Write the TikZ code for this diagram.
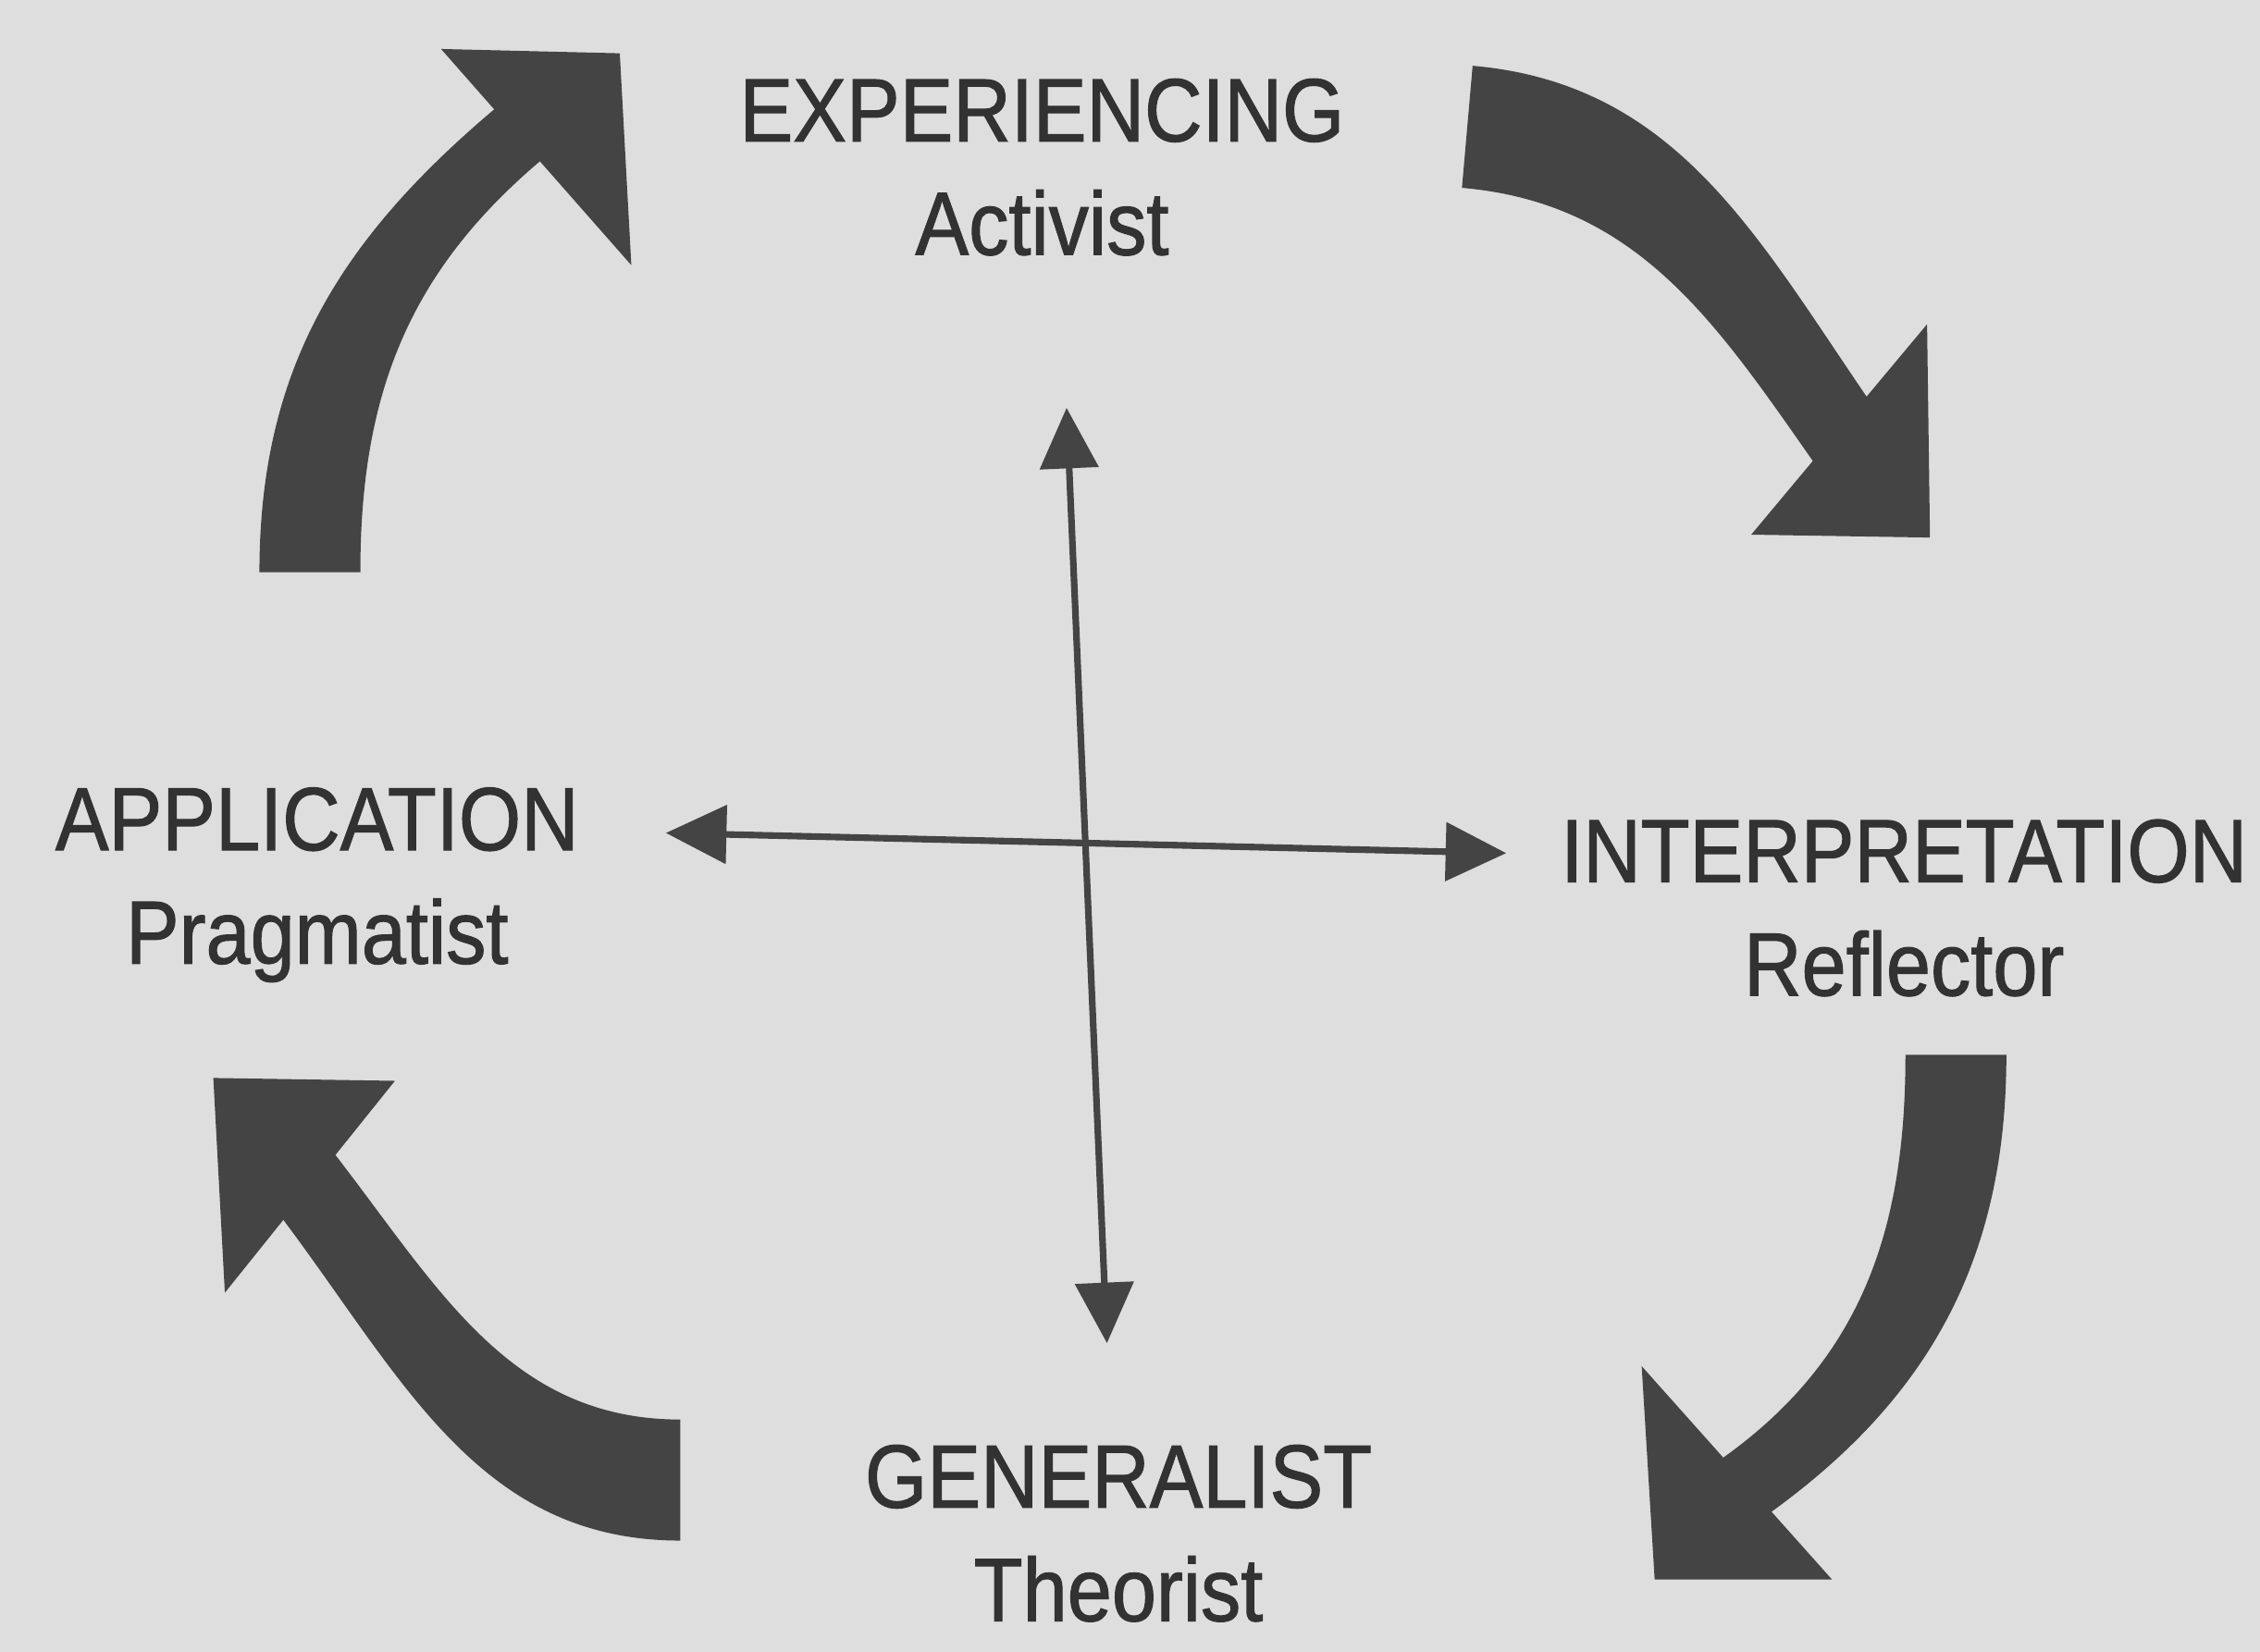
\documentclass[tikz,border=0pt]{standalone}
\usepackage{fontspec}
\setmainfont{Liberation Sans}
\newfontfamily\stagefont{Liberation Sans}[FakeBold=1.2]
\usepackage{xcolor}
\usepackage{tikz}
\usetikzlibrary{arrows.meta,calc}

\definecolor{paper}{RGB}{222,222,222}
\definecolor{ink}{RGB}{68,68,68}
\definecolor{letters}{RGB}{50,50,50}

% shaft of a cycle arrow: #1 tail, #2 end, #3 out, #4 in, #5/#6 half widths at tail/end
\newcommand\cycleshaft[6]{%
  \fill[ink] ($(#1)+(#3+90:#5)$) to[out=#3,in=#4] ($(#2)+(#4-90:#6)$)
    -- ($(#2)+(#4+90:#6)$) to[out=#4,in=#3] ($(#1)+(#3-90:#5)$) -- cycle;}
% head of a cycle arrow: corner, tip, corner
\newcommand\cyclehead[3]{\fill[ink] (#1) -- (#2) -- (#3) -- cycle;}

\begin{document}
\begin{tikzpicture}[
    stage/.style={align=center, inner sep=0pt, text=letters, yscale=1.12,
        font=\stagefont\fontsize{15.8}{20}\selectfont},
    axis/.style={draw=ink, line width=1.3pt,
        {Triangle[length=4.2mm, width=4mm]}-{Triangle[length=4.2mm, width=4mm]}}
]

% sheet
\fill[paper] (0,0) rectangle (15.68,11.46);
\useasboundingbox (0,0) rectangle (15.68,11.46);

% stages of the cycle
\node[stage] (exp) at (7.23,10.30) {EXPERIENCING\\Activist};
\node[stage] (int) at (13.21,5.16) {INTERPRETATION\\Reflector};
\node[stage] (gen) at (7.76,0.82) {GENERALIST\\Theorist};
\node[stage] (app) at (2.20,5.32) {APPLICATION\\Pragmatist};

% ends of the cycle arrows: S tail, E end of shaft, H1/H2 corners of head, T tip
\coordinate (tlS) at (2.15,7.49);   \coordinate (tlE) at (3.61,10.54);
\coordinate (tlH1) at (3.06,11.12); \coordinate (tlT) at (4.30,11.09); \coordinate (tlH2) at (4.38,9.62);
\coordinate (trS) at (10.18,10.58); \coordinate (trE) at (12.85,8.36);
\coordinate (trH1) at (13.37,9.21); \coordinate (trT) at (13.39,7.73); \coordinate (trH2) at (12.15,7.75);
\coordinate (brS) at (13.57,4.14);  \coordinate (brE) at (12.07,1.12);
\coordinate (brH1) at (11.39,1.98); \coordinate (brT) at (11.48,0.50); \coordinate (brH2) at (12.71,0.50);
\coordinate (blS) at (4.72,1.19);   \coordinate (blE) at (2.07,3.32);
\coordinate (blH1) at (2.74,3.96);  \coordinate (blT) at (1.48,3.98);  \coordinate (blH2) at (1.56,2.49);

% cycle arrows
\cycleshaft{tlS}{tlE}{90}{220}{0.35}{0.24}
\cyclehead{tlH1}{tlT}{tlH2}
\cycleshaft{trS}{trE}{-5}{125}{0.425}{0.28}
\cyclehead{trH1}{trT}{trH2}
\cycleshaft{brS}{brE}{-90}{35}{0.35}{0.25}
\cyclehead{brH1}{brT}{brH2}
\cycleshaft{blS}{blE}{180}{308}{0.42}{0.28}
\cyclehead{blH1}{blT}{blH2}

% cross in the middle
\coordinate (vT) at (7.40,8.63); \coordinate (vB) at (7.68,2.14);
\coordinate (hL) at (4.62,5.68); \coordinate (hR) at (10.45,5.54);
\draw[axis] (vT) -- (vB);
\draw[axis] (hL) -- (hR);

\end{tikzpicture}
\end{document}
